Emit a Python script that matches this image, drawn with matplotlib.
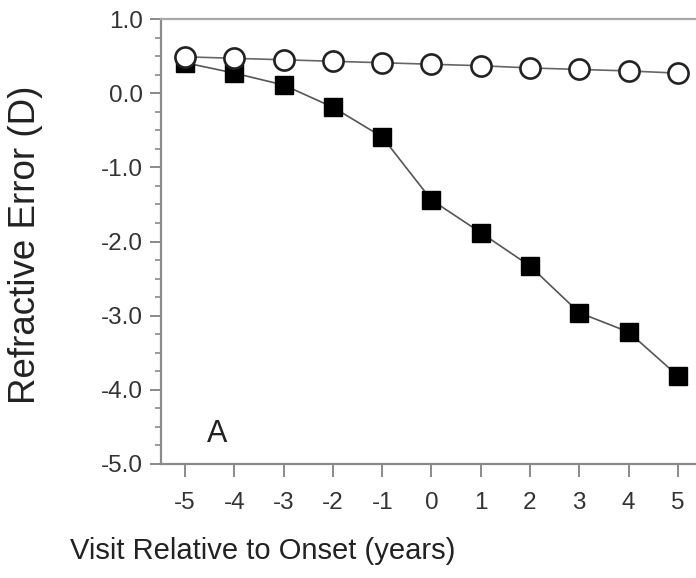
import matplotlib
matplotlib.use("Agg")
import matplotlib.pyplot as plt
from matplotlib.ticker import MultipleLocator, FuncFormatter

plt.rcParams['font.family'] = ['Liberation Sans', 'DejaVu Sans']

visits = [-5, -4, -3, -2, -1, 0, 1, 2, 3, 4, 5]
myopes = [0.41, 0.27, 0.11, -0.19, -0.59, -1.44, -1.88, -2.33, -2.96, -3.22, -3.81]
emmetropes = [0.49, 0.47, 0.45, 0.43, 0.41, 0.39, 0.37, 0.34, 0.32, 0.30, 0.27]
y_ticks = [1.0, 0.0, -1.0, -2.0, -3.0, -4.0, -5.0]

W, H = 696, 578
fig = plt.figure(figsize=(W / 100, H / 100), dpi=100)
ax = fig.add_axes([161 / W, 1 - 464 / H, (W - 161) / W, (464 - 19) / H])

ax.plot(visits, myopes, color='#555555', lw=1.2, marker='s', ms=12.5,
        mfc='black', mec='black', zorder=3)
ax.plot(visits, emmetropes, color='#666666', lw=1.2, marker='o', ms=14.5,
        mfc='white', mec='#222222', mew=1.9, zorder=4)

ax.set_xlim(-5.49, 5.37)
ax.set_ylim(-5.0, 1.0)
ax.set_xticks(visits)
ax.set_xticklabels([str(v) for v in visits])
ax.set_yticks(y_ticks)
ax.yaxis.set_major_formatter(FuncFormatter(lambda v, p: f"{v:.1f}".replace('\u2212', '-')))
ax.yaxis.set_minor_locator(MultipleLocator(0.25))

for side in ('left', 'bottom', 'top'):
    ax.spines[side].set_color('#8a8a8a')
    ax.spines[side].set_linewidth(1.6)
ax.spines['top'].set_color('#a8a8a8')
ax.spines['right'].set_visible(False)

ax.tick_params(axis='both', which='major', direction='out', color='#8a8a8a',
               width=1.4, labelsize=17.5, labelcolor='#333333')
ax.tick_params(axis='y', which='major', length=8, pad=5)
ax.tick_params(axis='y', which='minor', length=4.5, width=1.2, color='#8a8a8a')
ax.tick_params(axis='x', which='major', length=9, pad=11)

ax.text(-4.35, -4.59, 'A', fontsize=22, ha='center', va='center', color='#222222')

fig.text(26 / W, 1 - 245 / H, 'Refractive Error (D)', rotation=90,
         fontsize=26.5, ha='center', va='center', color='#222222')
fig.text(70 / W, 1 - 551 / H, 'Visit Relative to Onset (years)',
         fontsize=21, ha='left', va='center', color='#222222')

fig.savefig('out.png', dpi=100)
